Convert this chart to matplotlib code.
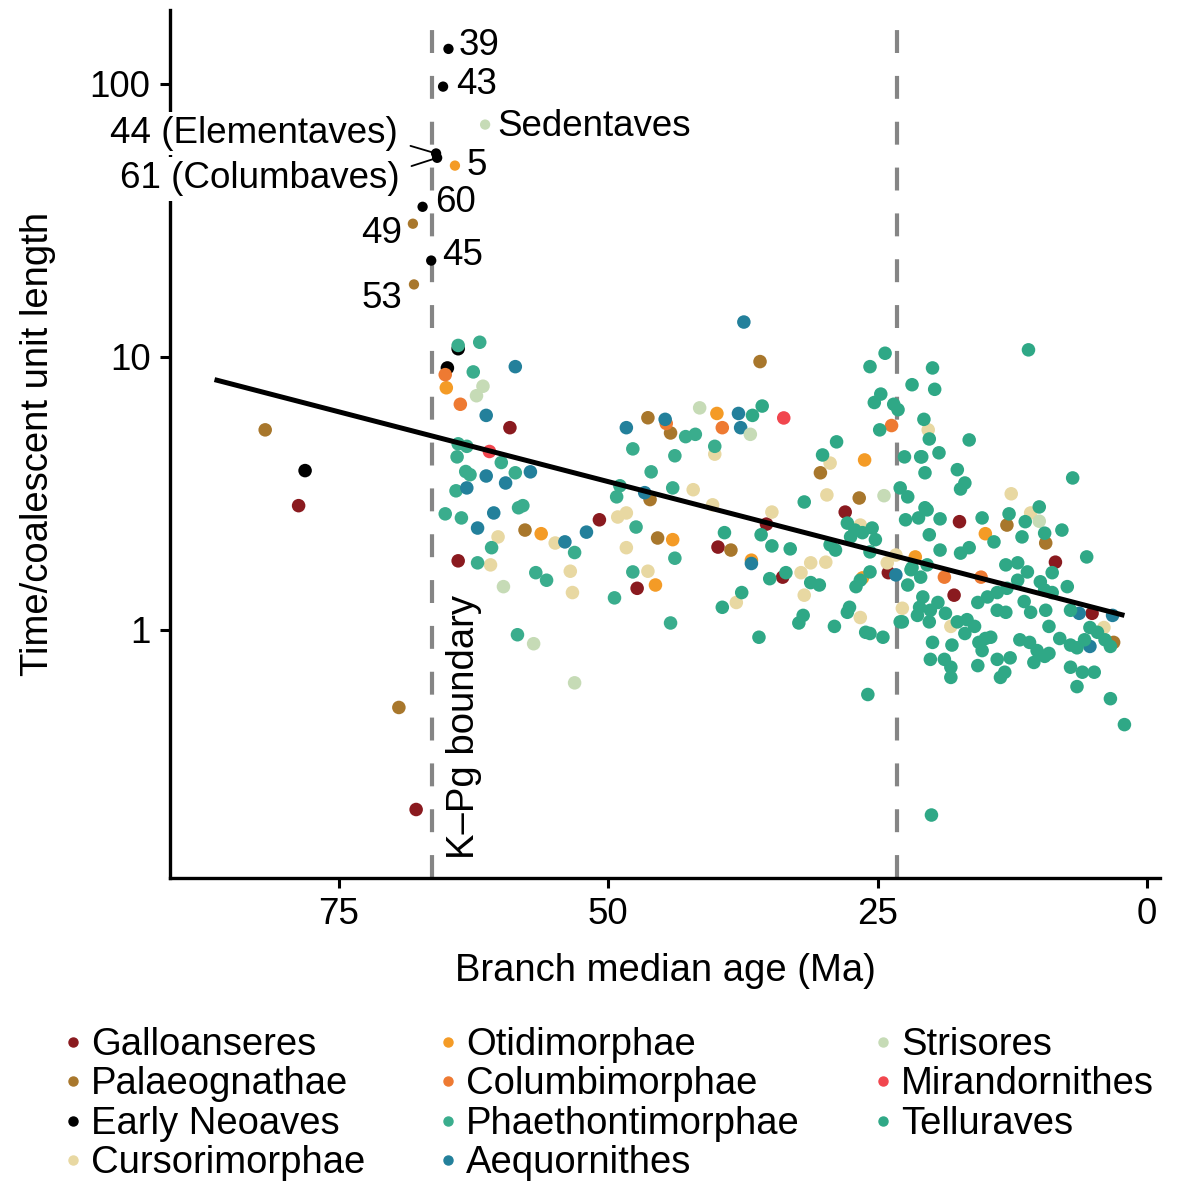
"""Branch rate vs. age scatter (time / coalescent unit length against median age)."""

import matplotlib

matplotlib.use("Agg")

import matplotlib.pyplot as plt  # noqa: E402
import numpy as np  # noqa: E402
from matplotlib.lines import Line2D  # noqa: E402

plt.rcParams["font.family"] = ["Liberation Sans", "DejaVu Sans"]

# --------------------------------------------------------------------------
# Data (ages in Ma, values in time / coalescent unit length)
# --------------------------------------------------------------------------

GROUPS = [
    "Galloanseres", "Palaeognathae", "Early Neoaves", "Cursorimorphae",
    "Otidimorphae", "Columbimorphae", "Phaethontimorphae", "Aequornithes",
    "Strisores", "Mirandornithes", "Telluraves",
]
COLORS = {
    "Galloanseres": "#8a1a1f",
    "Palaeognathae": "#a8772c",
    "Early Neoaves": "#000000",
    "Cursorimorphae": "#e8d8a2",
    "Otidimorphae": "#f49b26",
    "Columbimorphae": "#ee7a32",
    "Phaethontimorphae": "#3aad8d",
    "Aequornithes": "#23809b",
    "Strisores": "#c6dbb6",
    "Mirandornithes": "#f1464e",
    "Telluraves": "#2fa886",
}

galloanseres_age = [78.7, 67.8, 59.1, 63.9, 50.8, 47.3, 39.8, 35.3, 33.8, 28.0, 24.0, 17.4, 17.9, 8.5, 5.1]
galloanseres_val = [2.85, 0.22, 5.5, 1.79, 2.53, 1.42, 2.01, 2.44, 1.56, 2.7, 1.62, 2.49, 1.34, 1.77, 1.15]

palaeognathae_age = [81.8, 69.4, 57.7, 46.3, 44.2, 46.1, 45.4, 38.6, 35.9, 30.3, 26.7, 13.0, 9.4, 3.1]
palaeognathae_val = [5.4, 0.52, 2.32, 5.98, 5.26, 3.0, 2.17, 1.96, 9.6, 3.76, 3.04, 2.42, 2.08, 0.90]

early_neoaves_age = [78.1, 64.9, 63.9]
early_neoaves_val = [3.83, 9.1, 10.7]

cursorimorphae_age = [60.2, 60.9, 54.9, 53.5, 53.3, 49.1, 48.3, 48.3, 46.3, 40.1, 42.1, 40.3, 34.8, 38.1,
                      31.2, 29.8, 32.1, 31.8, 29.4, 29.7, 26.6, 26.6, 23.3, 24.1, 22.7, 20.3, 12.6, 10.8,
                      18.2, 4.0]
cursorimorphae_val = [2.19, 1.73, 2.08, 1.64, 1.37, 2.59, 2.68, 2.0, 1.64, 4.4, 3.26, 2.87, 2.7, 1.26,
                      1.76, 1.77, 1.62, 1.34, 4.08, 3.12, 2.42, 1.11, 1.88, 1.76, 1.20, 5.4, 3.15, 2.68,
                      1.03, 1.02]

otidimorphae_age = [65.0, 56.2, 44.0, 45.6, 39.9, 36.7, 26.2, 21.5, 15.0, 26.4]
otidimorphae_val = [7.7, 2.25, 2.14, 1.46, 6.2, 1.8, 4.19, 1.85, 2.25, 1.55]

columbimorphae_age = [65.1, 63.7, 39.4, 44.6, 23.7, 18.8, 15.4]
columbimorphae_val = [8.6, 6.7, 5.5, 5.7, 5.6, 1.56, 1.56]

phaethontimorphae_age = [63.9, 61.9, 62.5, 63.9, 63.1, 64.0, 59.9, 63.2, 62.8, 58.6, 64.1, 65.1, 63.6, 58.3,
                         57.9, 60.8, 53.1, 47.4, 48.9, 49.2, 47.7, 46.0, 43.8, 44.0, 62.1, 56.7, 55.7, 47.7,
                         49.4, 44.2, 58.4, 42.8, 41.9, 40.1, 43.8]
phaethontimorphae_val = [11.0, 11.3, 8.8, 4.8, 4.7, 4.3, 4.1, 3.8, 3.7, 3.76, 3.23, 2.66, 2.57, 2.80,
                         2.85, 2.0, 1.92, 2.38, 3.37, 3.07, 4.6, 3.79, 4.34, 3.31, 1.76, 1.62, 1.52, 1.63,
                         1.31, 1.06, 0.96, 5.1, 5.2, 4.7, 1.83]

aequornithes_age = [58.6, 61.3, 61.3, 57.2, 59.5, 63.1, 60.6, 62.1, 52.0, 54.0, 48.3, 46.6, 44.7, 37.9,
                    37.7, 37.4, 36.7, 23.3, 6.3, 3.2, 5.3]
aequornithes_val = [9.2, 6.1, 3.66, 3.79, 3.45, 3.31, 2.68, 2.36, 2.28, 2.1, 5.5, 3.18, 5.9, 6.2,
                    5.5, 13.4, 1.75, 1.59, 1.15, 1.13, 0.87]

strisores_age = [61.6, 62.2, 59.7, 56.9, 53.1, 41.5, 36.8, 24.4, 10.0]
strisores_val = [7.8, 7.2, 1.44, 0.89, 0.64, 6.5, 5.2, 3.1, 2.5]

mirandornithes_age = [61.0, 33.7]
mirandornithes_val = [4.5, 5.97]

telluraves_age = [
    35.7, 36.6, 39.2, 35.8, 34.8, 33.1, 31.8, 30.1, 28.8, 25.3, 24.7, 23.5, 23.1, 24.8, 21.8, 22.5,
    21.0, 20.6, 22.9, 22.2, 20.6, 22.4, 27.8, 27.1, 26.4, 27.5, 25.5, 25.2, 29.4, 28.9, 25.7, 21.8,
    21.0, 25.7, 35.0, 33.5, 31.2, 30.4, 37.6, 39.4, 31.9, 32.3, 36.0, 29.0, 27.6, 27.8, 26.1, 25.7,
    24.5, 27.0, 26.6, 25.9, 22.9, 24.3, 25.7,
    11.0, 19.9, 19.7, 20.7, 20.2, 16.5, 20.9, 19.3, 17.6, 16.9, 17.3, 6.9, 10.0, 12.8, 20.4, 21.2,
    19.2, 15.3, 20.2, 14.2, 16.5, 17.3, 11.6, 9.5, 7.9, 11.3, 19.2, 5.6, 20.0,
    21.9, 20.4, 22.2, 20.8, 21.1, 20.1, 19.4, 18.7, 22.7, 21.3, 20.2, 17.6, 16.7, 16.0, 15.0, 14.5,
    16.9, 19.9, 18.1, 20.1, 18.8, 18.2, 18.2, 15.6, 15.7, 13.9, 13.2, 13.6, 12.7, 15.3, 15.7, 14.8,
    13.9, 13.0, 12.0, 11.1, 13.1, 12.0, 13.9, 13.1, 11.4, 10.8, 9.5, 9.9, 8.8, 7.4, 8.8, 9.4,
    9.1, 8.1, 7.1, 11.8, 10.9, 10.2, 9.5, 10.5, 9.1, 7.1, 6.0, 4.9, 6.5, 5.8, 4.6, 3.9,
    3.4, 7.1, 5.3, 6.5, 3.4, 2.1,
]
telluraves_val = [
    6.6, 6.1, 2.27, 2.23, 2.03, 1.98, 2.94, 4.37, 4.88, 6.8, 7.3, 6.7, 6.4, 5.4, 7.9, 4.3,
    4.3, 3.76, 3.31, 3.07, 2.8, 2.53, 2.46, 2.32, 2.27, 2.19, 2.36, 2.14, 2.05, 1.96, 1.93, 1.69,
    1.56, 1.63, 1.54, 1.62, 1.49, 1.46, 1.37, 1.21, 1.13, 1.06, 0.94, 1.03, 1.21, 1.16, 0.98, 0.97,
    0.94, 1.44, 1.52, 0.58, 1.07, 10.3, 9.2,
    10.6, 9.1, 7.6, 5.9, 5.0, 4.96, 4.3, 4.45, 3.86, 3.45, 3.28, 3.6, 2.82, 2.66, 2.75, 2.57,
    2.55, 2.57, 2.23, 2.1, 2.0, 1.91, 2.19, 2.26, 2.32, 2.49, 1.96, 1.85, 0.21,
    1.66, 1.73, 1.46, 1.32, 1.21, 1.18, 1.26, 1.15, 1.07, 1.13, 1.07, 1.07, 1.09, 1.03, 0.93, 0.94,
    0.97, 0.90, 0.88, 0.78, 0.78, 0.73, 0.67, 0.90, 0.74, 0.78, 0.70, 0.67, 0.79, 0.84, 1.26, 1.32,
    1.37, 1.42, 1.52, 1.63, 1.73, 1.76, 1.18, 1.16, 1.27, 1.16, 1.40, 1.50, 1.62, 1.44, 1.37, 1.18,
    1.03, 0.93, 0.88, 0.92, 0.90, 0.84, 0.80, 0.76, 0.82, 0.73, 0.70, 0.70, 0.86, 0.92, 0.98, 0.92,
    0.87, 1.18, 1.02, 0.62, 0.56, 0.45,
]

# Highlighted deep branches with numbered / named labels
labeled_text = ["39", "43", "Sedentaves", "44 (Elementaves)", "61 (Columbaves)", "5", "60", "49", "45", "53"]
labeled_group = ["Early Neoaves", "Early Neoaves", "Strisores", "Early Neoaves", "Early Neoaves",
                 "Otidimorphae", "Early Neoaves", "Palaeognathae", "Early Neoaves", "Palaeognathae"]
labeled_age = [64.8, 65.3, 61.4, 65.95, 65.85, 64.2, 67.2, 68.1, 66.4, 68.0]
labeled_val = [134, 97.5, 70.8, 55.5, 53.5, 50.1, 35.4, 30.7, 22.5, 18.4]

# Log-linear fit: log10(value) = FIT_INTERCEPT + FIT_SLOPE * age
FIT_INTERCEPT = 0.0315
FIT_SLOPE = 0.01023
FIT_AGE_RANGE = (86.5, 2.1)

# dashed reference lines as placed in the figure
KPG_AGE = 66.3
MIOCENE_AGE = 23.2

SERIES = {
    "Galloanseres": (galloanseres_age, galloanseres_val),
    "Palaeognathae": (palaeognathae_age, palaeognathae_val),
    "Early Neoaves": (early_neoaves_age, early_neoaves_val),
    "Cursorimorphae": (cursorimorphae_age, cursorimorphae_val),
    "Otidimorphae": (otidimorphae_age, otidimorphae_val),
    "Columbimorphae": (columbimorphae_age, columbimorphae_val),
    "Phaethontimorphae": (phaethontimorphae_age, phaethontimorphae_val),
    "Aequornithes": (aequornithes_age, aequornithes_val),
    "Strisores": (strisores_age, strisores_val),
    "Mirandornithes": (mirandornithes_age, mirandornithes_val),
    "Telluraves": (telluraves_age, telluraves_val),
}

# --------------------------------------------------------------------------
# Figure
# --------------------------------------------------------------------------

FS = 27.5
FS_TICK = 26.5
C_DASH = "#858585"

fig = plt.figure(figsize=(11.82, 11.84), dpi=100)
ax = fig.add_axes([170 / 1182, 1 - 878 / 1184, 990 / 1182, 868 / 1184])

# Reference lines (K-Pg boundary and ~23 Ma)
for a in (KPG_AGE, MIOCENE_AGE):
    ax.axvline(a, color=C_DASH, lw=3.0, ls=(0, (5.5, 5.5)), zorder=1)

# Regression line
fit_x = np.linspace(FIT_AGE_RANGE[0], FIT_AGE_RANGE[1], 50)
ax.plot(fit_x, 10 ** (FIT_INTERCEPT + FIT_SLOPE * fit_x), color="black", lw=3.6, zorder=4,
        solid_capstyle="butt")

for g in GROUPS:
    xs, ys = SERIES[g]
    ax.scatter(xs, ys, s=95, color=COLORS[g], edgecolors="none", zorder=3)

# Labeled deep branches (drawn a bit smaller)
for txt, g, a, v in zip(labeled_text, labeled_group, labeled_age, labeled_val):
    ax.scatter([a], [v], s=55, color=COLORS[g], edgecolors="none", zorder=5)

# offsets in pixels (dx, dy) and alignment for each label
label_style = {
    "39": (10, 3, "left"),
    "43": (13, 2, "left"),
    "Sedentaves": (12, -2, "left"),
    "5": (12, 0, "left"),
    "60": (13, 4, "left"),
    "45": (11, 5, "left"),
    "49": (-11, -10, "right"),
    "53": (-12, -14, "right"),
}
for txt, a, v in zip(labeled_text, labeled_age, labeled_val):
    if txt in label_style:
        dx, dy, ha = label_style[txt]
        ax.annotate(txt, (a, v), xytext=(dx * 0.72, dy * 0.72), textcoords="offset points",
                    ha=ha, va="center", fontsize=FS_TICK, zorder=6)

# Two overlapping nodes with leader lines; white box breaks the y axis line
for txt, dy, rel in (("44 (Elementaves)", 20, (1.0, 0.25)), ("61 (Columbaves)", -21, (1.0, 0.75))):
    i = labeled_text.index(txt)
    ax.annotate(
        txt, (labeled_age[i], labeled_val[i]),
        xytext=(-38 * 0.72, dy * 0.72), textcoords="offset points",
        ha="right", va="center", fontsize=FS_TICK, zorder=6,
        bbox=dict(boxstyle="square,pad=0.12", fc="white", ec="none"),
        arrowprops=dict(arrowstyle="-", color="black", lw=1.3, relpos=rel, shrinkA=6, shrinkB=3),
    )

ax.text(KPG_AGE - 2.9, 0.145, "K\u2013Pg boundary", rotation=90, ha="center", va="bottom",
        fontsize=FS, zorder=6)

ax.set_yscale("log")
ax.set_xlim(90.63, -1.2)
ax.set_ylim(0.1235, 186)
ax.set_yticks([1, 10, 100])
ax.set_yticklabels(["1", "10", "100"])
ax.yaxis.set_minor_locator(matplotlib.ticker.NullLocator())
ax.set_xticks([75, 50, 25, 0])
ax.set_xticklabels(["75", "50", "25", "0"])

for side in ("top", "right"):
    ax.spines[side].set_visible(False)
for side in ("left", "bottom"):
    ax.spines[side].set_linewidth(2.4)
ax.tick_params(axis="both", which="major", length=7, width=2.2, labelsize=FS_TICK, pad=7, colors="black")

ax.set_xlabel("Branch median age (Ma)", fontsize=FS, labelpad=15)
ax.set_ylabel("Time/coalescent unit length", fontsize=FS, labelpad=24)

handles = [Line2D([], [], marker="o", ls="", color=COLORS[g], markersize=6.5) for g in GROUPS]
fig.legend(
    handles, GROUPS, loc="upper left", bbox_to_anchor=(64 / 1182, 1 - 1027 / 1184), ncol=3,
    frameon=False, fontsize=FS, handlelength=0.45, handletextpad=0.25, columnspacing=1.95,
    labelspacing=0.09, borderpad=0, borderaxespad=0,
)

fig.savefig("out.png", dpi=100, facecolor="white")
plt.close(fig)
